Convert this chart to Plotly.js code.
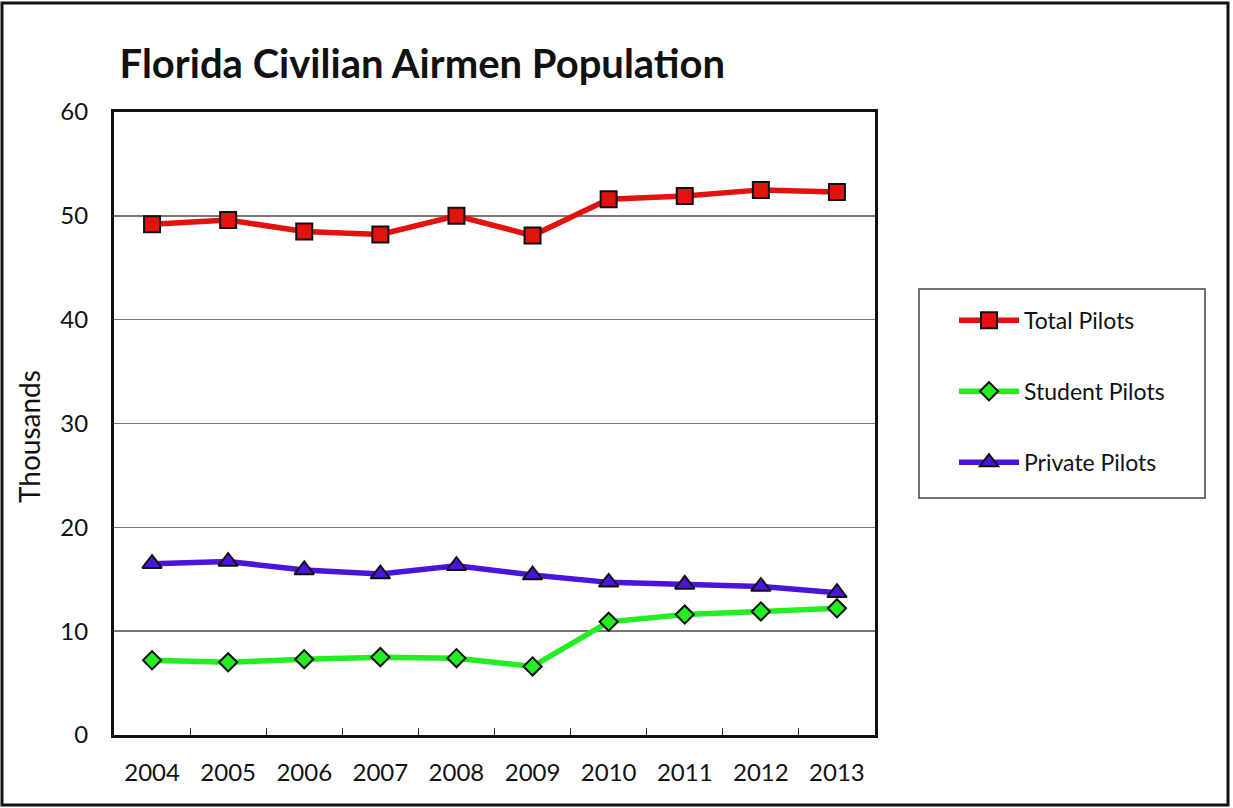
<!DOCTYPE html>
<html>
<head>
<meta charset="utf-8">
<script src="https://cdn.plot.ly/plotly-3.0.1.min.js"></script>
<style>html,body{margin:0;padding:0;background:#fff;}#chart{width:1233px;height:808px;}</style>
</head>
<body>
<div id="chart"></div>
<script>
const years = ["2004","2005","2006","2007","2008","2009","2010","2011","2012","2013"];
const totalPilots = [49.2, 49.6, 48.5, 48.2, 50.0, 48.1, 51.6, 51.9, 52.5, 52.3];
const studentPilots = [7.2, 7.0, 7.3, 7.5, 7.4, 6.6, 10.9, 11.6, 11.9, 12.2];
const privatePilots = [16.5, 16.7, 15.9, 15.5, 16.3, 15.4, 14.7, 14.5, 14.3, 13.7];

const FONT = "Lato, 'Open Sans', 'Noto Sans', sans-serif";

function series(name, y, color, symbol, size, group) {
  return {
    x: years, y: y, name: name, type: "scatter", mode: "lines+markers",
    legendgroup: group,
    line: {color: color, width: 5.5},
    marker: {symbol: symbol, size: size, color: color, line: {color: "#111", width: 2}}
  };
}

const data = [
  series("Total Pilots", totalPilots, "#e3120f", "square", 16, "a"),
  series("Student Pilots", studentPilots, "#22ee22", "diamond", 14, "b"),
  series("Private Pilots", privatePilots, "#4a14dc", "triangle-up", 17, "c")
];

const PW = 1233 - 114 - 358, PH = 808 - 112 - 73;
function px(x) { return (x - 114) / PW; }
function py(y) { return (735 - y) / PH; }

const layout = {
  width: 1233, height: 808,
  margin: {l: 114, r: 358, t: 112, b: 73},
  paper_bgcolor: "#fff", plot_bgcolor: "#fff",
  font: {family: FONT, color: "#111", size: 20},
  title: {text: "<b>Florida Civilian Airmen Population</b>", x: 0.097, xanchor: "left", y: 0.921, yanchor: "middle",
          font: {family: FONT, size: 40, color: "#111"}},
  xaxis: {
    type: "category", range: [-0.5, 9.5],
    showline: true, linecolor: "#111", linewidth: 3, mirror: true,
    ticks: "inside", ticklen: 7, tickcolor: "#333", tickwidth: 1,
    tickson: "boundaries", showgrid: false, zeroline: false,
    tickfont: {size: 24, family: FONT, color: "#111"}, ticklabelstandoff: 14
  },
  yaxis: {
    range: [0, 60], dtick: 10, tick0: 0,
    showline: true, linecolor: "#111", linewidth: 3, mirror: true,
    ticks: "", showgrid: true, gridcolor: "#777", gridwidth: 1.5, zeroline: false,
    tickfont: {size: 24, family: FONT, color: "#111"}, ticklabelstandoff: 18
  },
  annotations: [
    {text: "Thousands", xref: "paper", yref: "paper", x: px(29), y: py(437), xanchor: "center", yanchor: "middle",
     textangle: -90, showarrow: false, font: {size: 28, family: FONT, color: "#111"}}
  ],
  showlegend: true,
  legend: {
    x: px(954), xanchor: "left", y: 0.70, yanchor: "top",
    bgcolor: "rgba(0,0,0,0)", borderwidth: 0,
    font: {size: 23, family: FONT, color: "#111"},
    tracegroupgap: 38, itemwidth: 60
  },
  shapes: [
    {type: "rect", xref: "paper", yref: "paper", x0: px(919), x1: px(1205), y0: py(498), y1: py(289),
     line: {color: "#444", width: 1.5}, fillcolor: "rgba(0,0,0,0)"},
    {type: "rect", xref: "paper", yref: "paper", x0: px(2), x1: px(1228), y0: py(805), y1: py(3),
     line: {color: "#111", width: 3}, fillcolor: "rgba(0,0,0,0)"}
  ]
};

Plotly.newPlot("chart", data, layout, {displayModeBar: false, staticPlot: true});
</script>
</body>
</html>
